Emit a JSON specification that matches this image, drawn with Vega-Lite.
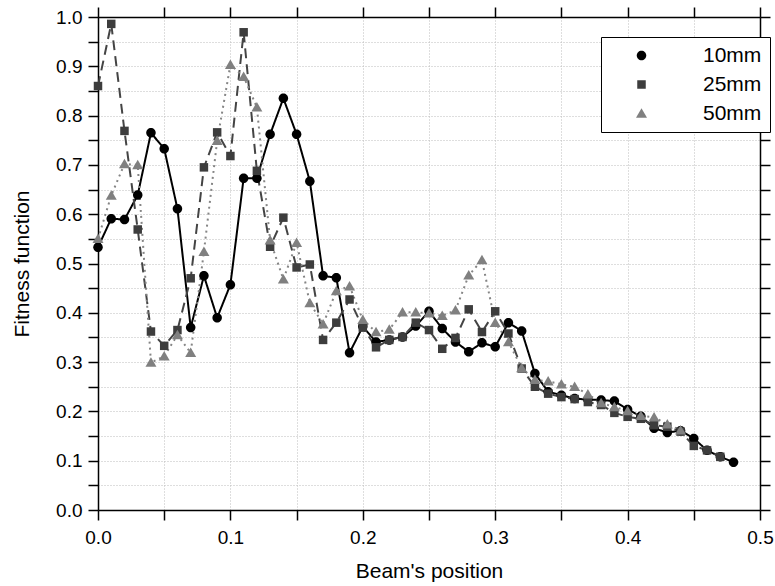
{
  "$schema": "https://vega.github.io/schema/vega-lite/v6.json",
  "width": 662,
  "height": 493,
  "autosize": {"type": "none"},
  "padding": {"left": 98, "top": 17, "right": 15, "bottom": 76},
  "background": "white",
  "config": {
    "view": {"stroke": null},
    "font": "Liberation Sans",
    "axis": {
      "domainColor": "#000",
      "domainWidth": 1.5,
      "tickColor": "#000",
      "tickWidth": 1.5,
      "labelFont": "Liberation Sans",
      "labelFontSize": 19,
      "labelColor": "#000",
      "titleFont": "Liberation Sans",
      "titleFontSize": 21,
      "titleFontWeight": "normal",
      "titleColor": "#000",
      "gridColor": "#bdbdbd",
      "gridDash": [1, 2],
      "gridWidth": 1,
      "labelFlush": false,
      "labelOverlap": false
    },
    "legend": {
      "title": null,
      "orient": "none",
      "legendX": 503,
      "legendY": 20,
      "fillColor": "white",
      "strokeColor": "#000",
      "padding": 8,
      "rowPadding": 7,
      "labelFont": "Liberation Sans",
      "labelFontSize": 21,
      "labelColor": "#000",
      "symbolSize": 100,
      "symbolOffset": 22,
      "labelOffset": 51,
      "symbolStrokeWidth": 0,
      "symbolOpacity": 1
    }
  },
  "data": {
    "values": [
      {"series": "10mm", "pos": 0.00, "fit": 0.533},
      {"series": "10mm", "pos": 0.01, "fit": 0.591},
      {"series": "10mm", "pos": 0.02, "fit": 0.589},
      {"series": "10mm", "pos": 0.03, "fit": 0.639},
      {"series": "10mm", "pos": 0.04, "fit": 0.765},
      {"series": "10mm", "pos": 0.05, "fit": 0.733},
      {"series": "10mm", "pos": 0.06, "fit": 0.611},
      {"series": "10mm", "pos": 0.07, "fit": 0.370},
      {"series": "10mm", "pos": 0.08, "fit": 0.475},
      {"series": "10mm", "pos": 0.09, "fit": 0.390},
      {"series": "10mm", "pos": 0.10, "fit": 0.457},
      {"series": "10mm", "pos": 0.11, "fit": 0.673},
      {"series": "10mm", "pos": 0.12, "fit": 0.673},
      {"series": "10mm", "pos": 0.13, "fit": 0.762},
      {"series": "10mm", "pos": 0.14, "fit": 0.835},
      {"series": "10mm", "pos": 0.15, "fit": 0.762},
      {"series": "10mm", "pos": 0.16, "fit": 0.667},
      {"series": "10mm", "pos": 0.17, "fit": 0.475},
      {"series": "10mm", "pos": 0.18, "fit": 0.471},
      {"series": "10mm", "pos": 0.19, "fit": 0.319},
      {"series": "10mm", "pos": 0.20, "fit": 0.372},
      {"series": "10mm", "pos": 0.21, "fit": 0.341},
      {"series": "10mm", "pos": 0.22, "fit": 0.345},
      {"series": "10mm", "pos": 0.23, "fit": 0.351},
      {"series": "10mm", "pos": 0.24, "fit": 0.373},
      {"series": "10mm", "pos": 0.25, "fit": 0.403},
      {"series": "10mm", "pos": 0.26, "fit": 0.368},
      {"series": "10mm", "pos": 0.27, "fit": 0.341},
      {"series": "10mm", "pos": 0.28, "fit": 0.321},
      {"series": "10mm", "pos": 0.29, "fit": 0.339},
      {"series": "10mm", "pos": 0.30, "fit": 0.331},
      {"series": "10mm", "pos": 0.31, "fit": 0.380},
      {"series": "10mm", "pos": 0.32, "fit": 0.363},
      {"series": "10mm", "pos": 0.33, "fit": 0.277},
      {"series": "10mm", "pos": 0.34, "fit": 0.240},
      {"series": "10mm", "pos": 0.35, "fit": 0.233},
      {"series": "10mm", "pos": 0.36, "fit": 0.226},
      {"series": "10mm", "pos": 0.37, "fit": 0.224},
      {"series": "10mm", "pos": 0.38, "fit": 0.223},
      {"series": "10mm", "pos": 0.39, "fit": 0.221},
      {"series": "10mm", "pos": 0.40, "fit": 0.204},
      {"series": "10mm", "pos": 0.41, "fit": 0.190},
      {"series": "10mm", "pos": 0.42, "fit": 0.166},
      {"series": "10mm", "pos": 0.43, "fit": 0.157},
      {"series": "10mm", "pos": 0.44, "fit": 0.161},
      {"series": "10mm", "pos": 0.45, "fit": 0.145},
      {"series": "10mm", "pos": 0.46, "fit": 0.121},
      {"series": "10mm", "pos": 0.47, "fit": 0.108},
      {"series": "10mm", "pos": 0.48, "fit": 0.097},
      {"series": "25mm", "pos": 0.00, "fit": 0.860},
      {"series": "25mm", "pos": 0.01, "fit": 0.986},
      {"series": "25mm", "pos": 0.02, "fit": 0.769},
      {"series": "25mm", "pos": 0.03, "fit": 0.569},
      {"series": "25mm", "pos": 0.04, "fit": 0.362},
      {"series": "25mm", "pos": 0.05, "fit": 0.333},
      {"series": "25mm", "pos": 0.06, "fit": 0.365},
      {"series": "25mm", "pos": 0.07, "fit": 0.470},
      {"series": "25mm", "pos": 0.08, "fit": 0.695},
      {"series": "25mm", "pos": 0.09, "fit": 0.766},
      {"series": "25mm", "pos": 0.10, "fit": 0.718},
      {"series": "25mm", "pos": 0.11, "fit": 0.969},
      {"series": "25mm", "pos": 0.12, "fit": 0.688},
      {"series": "25mm", "pos": 0.13, "fit": 0.534},
      {"series": "25mm", "pos": 0.14, "fit": 0.593},
      {"series": "25mm", "pos": 0.15, "fit": 0.492},
      {"series": "25mm", "pos": 0.16, "fit": 0.498},
      {"series": "25mm", "pos": 0.17, "fit": 0.345},
      {"series": "25mm", "pos": 0.18, "fit": 0.380},
      {"series": "25mm", "pos": 0.19, "fit": 0.427},
      {"series": "25mm", "pos": 0.20, "fit": 0.370},
      {"series": "25mm", "pos": 0.21, "fit": 0.330},
      {"series": "25mm", "pos": 0.22, "fit": 0.345},
      {"series": "25mm", "pos": 0.23, "fit": 0.351},
      {"series": "25mm", "pos": 0.24, "fit": 0.380},
      {"series": "25mm", "pos": 0.25, "fit": 0.365},
      {"series": "25mm", "pos": 0.26, "fit": 0.327},
      {"series": "25mm", "pos": 0.27, "fit": 0.349},
      {"series": "25mm", "pos": 0.28, "fit": 0.407},
      {"series": "25mm", "pos": 0.29, "fit": 0.361},
      {"series": "25mm", "pos": 0.30, "fit": 0.403},
      {"series": "25mm", "pos": 0.31, "fit": 0.358},
      {"series": "25mm", "pos": 0.32, "fit": 0.287},
      {"series": "25mm", "pos": 0.33, "fit": 0.250},
      {"series": "25mm", "pos": 0.34, "fit": 0.236},
      {"series": "25mm", "pos": 0.35, "fit": 0.229},
      {"series": "25mm", "pos": 0.36, "fit": 0.225},
      {"series": "25mm", "pos": 0.37, "fit": 0.219},
      {"series": "25mm", "pos": 0.38, "fit": 0.213},
      {"series": "25mm", "pos": 0.39, "fit": 0.197},
      {"series": "25mm", "pos": 0.40, "fit": 0.189},
      {"series": "25mm", "pos": 0.41, "fit": 0.185},
      {"series": "25mm", "pos": 0.42, "fit": 0.172},
      {"series": "25mm", "pos": 0.43, "fit": 0.169},
      {"series": "25mm", "pos": 0.44, "fit": 0.159},
      {"series": "25mm", "pos": 0.45, "fit": 0.130},
      {"series": "25mm", "pos": 0.46, "fit": 0.121},
      {"series": "25mm", "pos": 0.47, "fit": 0.108},
      {"series": "50mm", "pos": 0.00, "fit": 0.550},
      {"series": "50mm", "pos": 0.01, "fit": 0.638},
      {"series": "50mm", "pos": 0.02, "fit": 0.702},
      {"series": "50mm", "pos": 0.03, "fit": 0.700},
      {"series": "50mm", "pos": 0.04, "fit": 0.299},
      {"series": "50mm", "pos": 0.05, "fit": 0.312},
      {"series": "50mm", "pos": 0.06, "fit": 0.355},
      {"series": "50mm", "pos": 0.07, "fit": 0.319},
      {"series": "50mm", "pos": 0.08, "fit": 0.524},
      {"series": "50mm", "pos": 0.09, "fit": 0.749},
      {"series": "50mm", "pos": 0.10, "fit": 0.903},
      {"series": "50mm", "pos": 0.11, "fit": 0.879},
      {"series": "50mm", "pos": 0.12, "fit": 0.817},
      {"series": "50mm", "pos": 0.13, "fit": 0.547},
      {"series": "50mm", "pos": 0.14, "fit": 0.468},
      {"series": "50mm", "pos": 0.15, "fit": 0.542},
      {"series": "50mm", "pos": 0.16, "fit": 0.420},
      {"series": "50mm", "pos": 0.17, "fit": 0.377},
      {"series": "50mm", "pos": 0.18, "fit": 0.444},
      {"series": "50mm", "pos": 0.19, "fit": 0.454},
      {"series": "50mm", "pos": 0.20, "fit": 0.386},
      {"series": "50mm", "pos": 0.21, "fit": 0.361},
      {"series": "50mm", "pos": 0.22, "fit": 0.366},
      {"series": "50mm", "pos": 0.23, "fit": 0.401},
      {"series": "50mm", "pos": 0.24, "fit": 0.401},
      {"series": "50mm", "pos": 0.25, "fit": 0.399},
      {"series": "50mm", "pos": 0.26, "fit": 0.394},
      {"series": "50mm", "pos": 0.27, "fit": 0.405},
      {"series": "50mm", "pos": 0.28, "fit": 0.476},
      {"series": "50mm", "pos": 0.29, "fit": 0.507},
      {"series": "50mm", "pos": 0.30, "fit": 0.380},
      {"series": "50mm", "pos": 0.31, "fit": 0.341},
      {"series": "50mm", "pos": 0.32, "fit": 0.288},
      {"series": "50mm", "pos": 0.33, "fit": 0.264},
      {"series": "50mm", "pos": 0.34, "fit": 0.261},
      {"series": "50mm", "pos": 0.35, "fit": 0.255},
      {"series": "50mm", "pos": 0.36, "fit": 0.250},
      {"series": "50mm", "pos": 0.37, "fit": 0.235},
      {"series": "50mm", "pos": 0.38, "fit": 0.217},
      {"series": "50mm", "pos": 0.39, "fit": 0.209},
      {"series": "50mm", "pos": 0.40, "fit": 0.201},
      {"series": "50mm", "pos": 0.41, "fit": 0.191},
      {"series": "50mm", "pos": 0.42, "fit": 0.188},
      {"series": "50mm", "pos": 0.43, "fit": 0.174},
      {"series": "50mm", "pos": 0.44, "fit": 0.162}
    ]
  },
  "layer": [
    {
      "mark": {"type": "line", "strokeWidth": 2},
      "encoding": {
        "x": {
          "field": "pos", "type": "quantitative",
          "scale": {"domain": [0, 0.5], "nice": false, "zero": false},
          "axis": {
            "orient": "bottom",
            "title": "Beam's position",
            "values": [0, 0.05, 0.1, 0.15, 0.2, 0.25, 0.3, 0.35, 0.4, 0.45, 0.5],
            "labelExpr": "abs(datum.value*10 - round(datum.value*10)) < 0.001 ? format(datum.value, '.1f') : ''",
            "tickSize": 10,
            "labelPadding": 8,
            "titlePadding": 13,
            "grid": true,
            "encode": {"ticks": {"update": {"y2": {"signal": "abs(datum.value*10 - round(datum.value*10)) < 0.001 ? 10 : 5"}}}}
          }
        },
        "y": {
          "field": "fit", "type": "quantitative",
          "scale": {"domain": [0, 1], "nice": false, "zero": false},
          "axis": {
            "orient": "left",
            "title": "Fitness function",
            "values": [0, 0.05, 0.1, 0.15, 0.2, 0.25, 0.3, 0.35, 0.4, 0.45, 0.5, 0.55, 0.6, 0.65, 0.7, 0.75, 0.8, 0.85, 0.9, 0.95, 1],
            "labelExpr": "abs(datum.value*10 - round(datum.value*10)) < 0.001 ? format(datum.value, '.1f') : ''",
            "tickSize": 10,
            "labelPadding": 6,
            "titlePadding": 23,
            "grid": true,
            "encode": {"ticks": {"update": {"x2": {"signal": "abs(datum.value*10 - round(datum.value*10)) < 0.001 ? -10 : -5"}}}}
          }
        },
        "stroke": {
          "field": "series", "type": "nominal",
          "scale": {"domain": ["50mm", "25mm", "10mm"], "range": ["#858585", "#444444", "#000000"]},
          "legend": null
        },
        "strokeDash": {
          "field": "series", "type": "nominal",
          "scale": {"domain": ["50mm", "25mm", "10mm"], "range": [[2, 4], [10, 6], [1, 0]]},
          "legend": null
        }
      }
    },
    {
      "mark": {"type": "point", "filled": true, "opacity": 1, "size": 100},
      "encoding": {
        "x": {
          "field": "pos", "type": "quantitative",
          "scale": {"domain": [0, 0.5], "nice": false, "zero": false},
          "axis": {
            "orient": "top",
            "title": null,
            "labels": false,
            "values": [0, 0.05, 0.1, 0.15, 0.2, 0.25, 0.3, 0.35, 0.4, 0.45, 0.5],
            "tickSize": 10,
            "grid": false,
            "encode": {"ticks": {"update": {"y2": {"signal": "abs(datum.value*10 - round(datum.value*10)) < 0.001 ? 10 : 6"}}}}
          }
        },
        "y": {
          "field": "fit", "type": "quantitative",
          "scale": {"domain": [0, 1], "nice": false, "zero": false},
          "axis": {
            "orient": "right",
            "title": null,
            "labels": false,
            "values": [0, 0.05, 0.1, 0.15, 0.2, 0.25, 0.3, 0.35, 0.4, 0.45, 0.5, 0.55, 0.6, 0.65, 0.7, 0.75, 0.8, 0.85, 0.9, 0.95, 1],
            "tickSize": 10,
            "grid": false,
            "encode": {"ticks": {"update": {"x2": {"signal": "abs(datum.value*10 - round(datum.value*10)) < 0.001 ? -10 : -7"}}}}
          }
        },
        "color": {
          "field": "series", "type": "nominal",
          "scale": {"domain": ["10mm", "25mm", "50mm"], "range": ["#000000", "#3d3d3d", "#808080"]}
        },
        "shape": {
          "field": "series", "type": "nominal",
          "scale": {"domain": ["10mm", "25mm", "50mm"], "range": ["M-0.95,0A0.95,0.95 0 1,1 0.95,0A0.95,0.95 0 1,1 -0.95,0Z", "M-0.85,-0.85L0.85,-0.85L0.85,0.85L-0.85,0.85Z", "M0,-1.05L1.1,0.85L-1.1,0.85Z"]}
        }
      }
    }
  ],
  "resolve": {"axis": {"x": "independent", "y": "independent"}}
}
